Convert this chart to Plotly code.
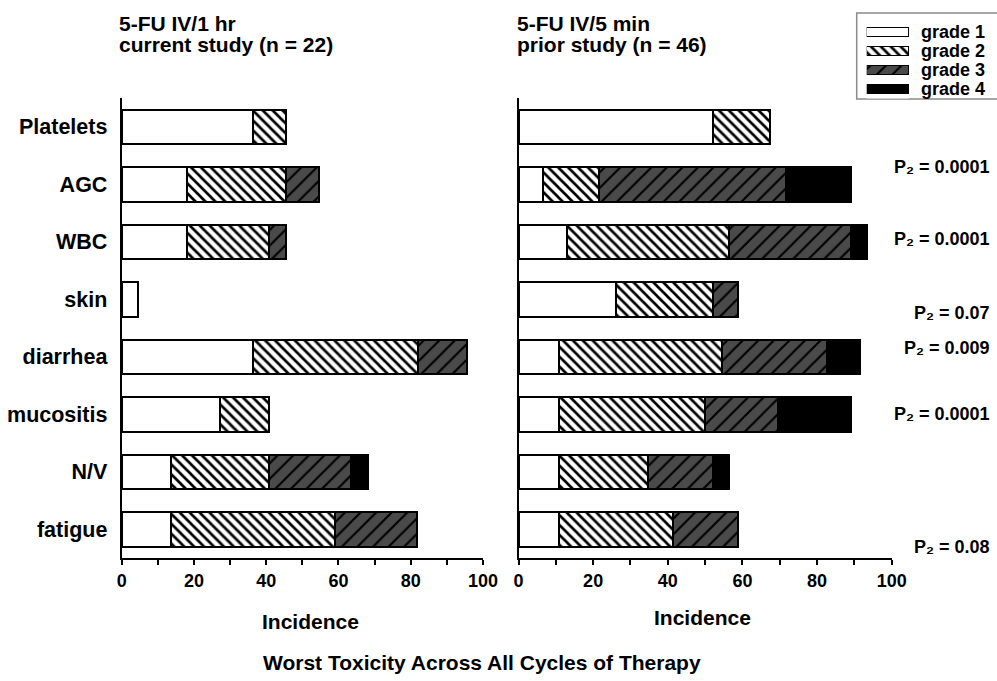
import plotly.graph_objects as go

# ---------------- data ----------------
categories = ["Platelets", "AGC", "WBC", "skin", "diarrhea", "mucositis", "N/V", "fatigue"]
grades = ["grade 1", "grade 2", "grade 3", "grade 4"]

# current study (n = 22), 5-FU IV/1 hr  -- incidence (%) per grade
cur_grade1 = [36.4, 18.2, 18.2, 4.5, 36.4, 27.3, 13.6, 13.6]
cur_grade2 = [9.1, 27.3, 22.7, 0, 45.5, 13.6, 27.3, 45.5]
cur_grade3 = [0, 9.1, 4.5, 0, 13.6, 0, 22.7, 22.7]
cur_grade4 = [0, 0, 0, 0, 0, 0, 4.5, 0]

# prior study (n = 46), 5-FU IV/5 min
pri_grade1 = [52.2, 6.5, 13.0, 26.1, 10.9, 10.9, 10.9, 10.9]
pri_grade2 = [15.2, 15.2, 43.5, 26.1, 43.5, 39.1, 23.9, 30.4]
pri_grade3 = [0, 50.0, 32.6, 6.5, 28.3, 19.6, 17.4, 17.4]
pri_grade4 = [0, 17.4, 4.3, 0, 8.7, 19.6, 4.3, 0]

p_values = ["0.0001", "0.0001", "0.07", "0.009", "0.0001", "0.08"]

x_ticks = [0, 20, 40, 60, 80, 100]

# ---------------- layout helpers ----------------
W, H = 997, 681
FONT = "Liberation Sans, Arial, sans-serif"


def px(x):
    return x / W


def py(y):
    return 1 - y / H


styles = {
    "grade 1": dict(color="white"),
    "grade 2": dict(color="white",
                    pattern=dict(shape="\\", fgcolor="black", bgcolor="white",
                                 size=7, solidity=0.38, fillmode="replace")),
    "grade 3": dict(color="#474747",
                    pattern=dict(shape="/", fgcolor="black", bgcolor="#4a4a4a",
                                 size=11, solidity=0.2, fillmode="replace")),
    "grade 4": dict(color="black"),
}


def clean(vals):
    return [v if v else None for v in vals]


fig = go.Figure()

panels = [
    ("x", "y", [cur_grade1, cur_grade2, cur_grade3, cur_grade4]),
    ("x2", "y2", [pri_grade1, pri_grade2, pri_grade3, pri_grade4]),
]
for xa, ya, series in panels:
    for g, vals in zip(grades, series):
        fig.add_trace(go.Bar(
            y=categories, x=clean(vals), orientation="h",
            xaxis=xa, yaxis=ya, width=0.6, name=g, showlegend=False,
            marker=dict(line=dict(color="black", width=2), **styles[g]),
            hovertemplate="%{y}: %{x}<extra>" + g + "</extra>",
        ))

# legend swatches drawn as bars on a small hidden axis
for g in grades:
    fig.add_trace(go.Bar(
        y=[g], x=[1], orientation="h", xaxis="x3", yaxis="y3",
        width=0.45, showlegend=False, hoverinfo="skip",
        marker=dict(line=dict(color="black", width=1.5), **styles[g]),
    ))

x_common = dict(range=[0, 100], tickvals=x_ticks, ticks="outside", ticklen=5,
                tickwidth=2, tickcolor="black", showline=True, linecolor="black",
                linewidth=2, showgrid=False, zeroline=False,
                tickfont=dict(family=FONT, size=18, color="black", weight="bold"),
                minor=dict(dtick=10, tick0=0, ticks="outside", ticklen=5,
                           tickwidth=2, tickcolor="black", showgrid=False),
                fixedrange=True)
y_common = dict(type="category", categoryorder="array",
                categoryarray=categories[::-1], range=[-0.5, 7.5],
                showline=True, linecolor="black", linewidth=2, ticks="",
                showgrid=False, zeroline=False, fixedrange=True,
                domain=[py(558), py(98)])

fig.update_layout(
    autosize=True,
    margin=dict(l=0, r=0, t=0, b=0, autoexpand=False),
    paper_bgcolor="white", plot_bgcolor="white",
    barmode="stack", bargap=0.4,
    showlegend=False,
    font=dict(family=FONT, color="black"),
    xaxis=dict(domain=[px(121.7), px(483)], anchor="y", **x_common),
    xaxis2=dict(domain=[px(518.5), px(891.7)], anchor="y2", **x_common),
    yaxis=dict(anchor="x", showticklabels=True, ticklabelstandoff=8,
               tickfont=dict(family=FONT, size=21.5, color="black", weight="bold"),
               **y_common),
    yaxis2=dict(anchor="x2", showticklabels=False, **y_common),
    xaxis3=dict(domain=[px(866.7), px(909)], range=[0, 1], visible=False,
                anchor="y3", fixedrange=True),
    yaxis3=dict(domain=[py(98.5), py(22.5)], type="category",
                categoryorder="array", categoryarray=grades[::-1],
                range=[-0.5, 3.5], visible=False, anchor="x3", fixedrange=True),
)


def bold(size):
    return dict(family=FONT, size=size, color="black", weight="bold")


ann = []
# panel titles
for x0, l1, l2 in [(117, "5-FU IV/1 hr", "current study (n = 22)"),
                   (515, "5-FU IV/5 min", "prior study (n = 46)")]:
    ann.append(dict(x=px(x0), y=py(23), text=l1, xanchor="left", yanchor="middle", font=bold(21)))
    ann.append(dict(x=px(x0), y=py(45), text=l2, xanchor="left", yanchor="middle", font=bold(21)))

# axis titles
ann.append(dict(x=px(310), y=py(621), text="Incidence", xanchor="center",
                yanchor="middle", font=bold(21)))
ann.append(dict(x=px(702), y=py(617), text="Incidence", xanchor="center",
                yanchor="middle", font=bold(21)))
ann.append(dict(x=px(482), y=py(662), text="Worst Toxicity Across All Cycles of Therapy",
                xanchor="center", yanchor="middle", font=bold(21)))

# p-values
p_rows = [167, 239, 313, 348, 414, 547]
for yv, p in zip(p_rows, p_values):
    ann.append(dict(x=px(992), y=py(yv), text="P\u2082 = " + p,
                    xanchor="right", yanchor="middle", font=bold(18)))

# legend labels
for yv, g in zip([32, 51, 70, 89], grades):
    ann.append(dict(x=px(919), y=py(yv), text=g, xanchor="left",
                    yanchor="middle", font=bold(18)))

for a in ann:
    a.update(xref="paper", yref="paper", showarrow=False)
fig.update_layout(annotations=ann)

# legend border
fig.add_shape(type="rect", xref="paper", yref="paper",
              x0=px(856.7), x1=px(1005), y0=py(99), y1=py(13),
              line=dict(color="#8a8a8a", width=1.5), fillcolor="rgba(0,0,0,0)",
              layer="below")

post = (
    "document.documentElement.style.margin='0';"
    "document.body.style.margin='0';"
    "document.documentElement.style.overflow='hidden';"
    "document.body.style.overflow='hidden';"
    "var gd=document.getElementById('{plot_id}');"
    "gd.style.width='100vw';gd.style.height='100vh';"
    "Plotly.Plots.resize(gd);"
)
fig.write_html("out.html", config={"displayModeBar": False, "responsive": True},
               default_width="100vw", default_height="100vh", post_script=post)
